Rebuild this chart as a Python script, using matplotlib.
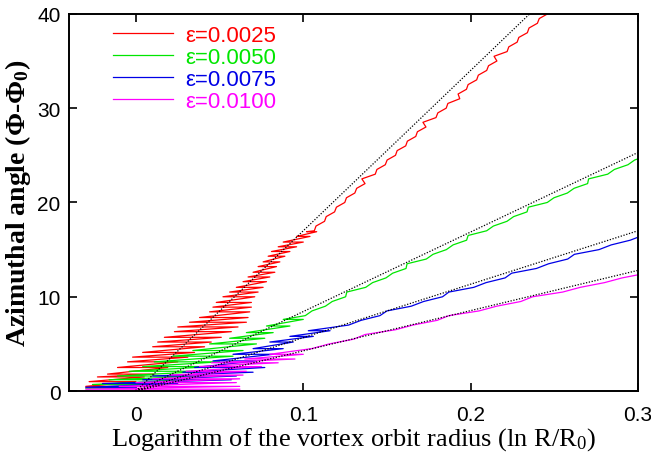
import matplotlib
matplotlib.use("Agg")
import matplotlib.pyplot as plt

plt.rcParams["mathtext.fontset"] = "custom"
plt.rcParams["mathtext.rm"] = "Liberation Serif"
plt.rcParams["mathtext.it"] = "Liberation Serif:italic"
plt.rcParams["mathtext.bf"] = "Liberation Serif:bold"

# ---- data ----
labels = ["ε=0.0025", "ε=0.0050", "ε=0.0075", "ε=0.0100"]
colors = ["#ff0000", "#00e600", "#0000e6", "#ff00ff"]

# lower part: wide oscillation strokes: level (phi), left end, right end (lnR)
red_y = [0.5, 1.0, 1.5, 1.8, 2.5, 3.1, 3.6, 4.1, 4.7, 5.2, 5.7, 6.3, 6.8, 7.3, 7.8,
         8.4, 8.9, 9.4, 10.0, 10.5, 11.0, 11.6, 12.1, 12.6, 13.2, 13.7, 14.3, 14.8,
         15.3, 15.8, 16.4, 16.9]
red_l = [-0.030, -0.028, -0.023, -0.017, -0.011, -0.005, -0.002, 0.004, 0.010, 0.013,
         0.017, 0.023, 0.025, 0.032, 0.038, 0.044, 0.046, 0.048, 0.052, 0.056, 0.060,
         0.064, 0.067, 0.070, 0.073, 0.076, 0.079, 0.081, 0.085, 0.088, 0.096, 0.102]
red_r = [0.000, 0.000, 0.005, 0.011, 0.019, 0.025, 0.031, 0.035, 0.041, 0.045, 0.051,
         0.057, 0.061, 0.066, 0.067, 0.068, 0.069, 0.069, 0.071, 0.073, 0.076, 0.078,
         0.080, 0.083, 0.084, 0.086, 0.089, 0.092, 0.096, 0.100, 0.104, 0.108]
# upper part: small jagged line (lnR, phi)
red_jx = [0.1066, 0.1076, 0.1127, 0.1137, 0.1187, 0.1198, 0.1248, 0.1258, 0.1308,
          0.1319, 0.1369, 0.1350, 0.1430, 0.1440, 0.1490, 0.1501, 0.1551, 0.1561,
          0.1612, 0.1622, 0.1672, 0.1682, 0.1733, 0.1715, 0.1793, 0.1804, 0.1854,
          0.1864, 0.1935, 0.1925, 0.1975, 0.1985, 0.2036, 0.2046, 0.2096, 0.2107,
          0.2157, 0.2140, 0.2218, 0.2228, 0.2278, 0.2288, 0.2339, 0.2349, 0.2399,
          0.2410, 0.2460, 0.2470]
red_jy = [17.0, 17.5, 18.0, 18.5, 19.0, 19.5, 20.0, 20.5, 21.0, 21.5, 22.0, 22.5, 23.0,
          23.5, 24.0, 24.5, 25.0, 25.5, 26.0, 26.5, 27.0, 27.5, 28.0, 28.5, 29.0, 29.5,
          30.0, 30.5, 31.0, 31.5, 32.0, 32.5, 33.0, 33.5, 34.0, 34.5, 35.0, 35.5, 36.0,
          36.5, 37.0, 37.5, 38.0, 38.5, 39.0, 39.5, 40.0, 40.5]

green_y = [0.3, 0.7, 1.2, 1.6, 2.1, 2.6, 3.1, 3.7, 4.3, 5.0, 5.6, 6.2, 6.9, 7.6]
green_l = [-0.030, -0.026, -0.016, -0.011, -0.004, 0.004, 0.011, 0.022, 0.034, 0.044,
           0.056, 0.066, 0.078, 0.088]
green_r = [0.000, 0.020, 0.034, 0.040, 0.043, 0.046, 0.050, 0.058, 0.064, 0.072, 0.077,
           0.082, 0.092, 0.100]
green_jx = [0.1012, 0.1052, 0.1132, 0.1173, 0.1253, 0.1260, 0.1373, 0.1414, 0.1494,
            0.1534, 0.1614, 0.1620, 0.1735, 0.1775, 0.1855, 0.1895, 0.1976, 0.1985,
            0.2096, 0.2136, 0.2217, 0.2257, 0.2337, 0.2345, 0.2458, 0.2498, 0.2578,
            0.2618, 0.2699, 0.2705, 0.2819, 0.2859, 0.2940, 0.2980, 0.3060]
green_jy = [8.0, 8.5, 9.0, 9.5, 10.0, 10.5, 11.0, 11.5, 12.0, 12.5, 13.0, 13.5, 14.0,
            14.5, 15.0, 15.5, 16.0, 16.5, 17.0, 17.5, 18.0, 18.5, 19.0, 19.5, 20.0, 20.5,
            21.0, 21.5, 22.0, 22.5, 23.0, 23.5, 24.0, 24.5, 25.0]

blue_y = [0.4, 0.8, 1.2, 1.6, 2.0, 2.5, 3.2, 3.9, 4.5, 5.2, 5.8, 6.4]
blue_l = [-0.030, -0.020, 0.004, 0.010, 0.028, 0.035, 0.046, 0.058, 0.070, 0.080, 0.092,
          0.103]
blue_r = [0.000, 0.025, 0.057, 0.060, 0.070, 0.077, 0.072, 0.082, 0.088, 0.094, 0.106,
          0.116]
blue_jx = [0.1271, 0.1345, 0.1458, 0.1500, 0.1645, 0.1719, 0.1832, 0.1870, 0.2019,
           0.2092, 0.2206, 0.2245, 0.2393, 0.2466, 0.2580, 0.2620, 0.2767, 0.2840,
           0.2954, 0.3027]
blue_jy = [7.0, 7.5, 8.0, 8.5, 9.0, 9.5, 10.0, 10.5, 11.0, 11.5, 12.0, 12.5, 13.0, 13.5,
           14.0, 14.5, 15.0, 15.5, 16.0, 16.5]

mag_y = [0.2, 0.5, 0.9, 1.3, 1.7, 2.1, 2.6, 3.0, 3.4, 3.9]
mag_l = [-0.030, -0.010, 0.000, 0.010, 0.020, 0.030, 0.038, 0.045, 0.065, 0.080]
mag_r = [0.062, 0.062, 0.060, 0.062, 0.064, 0.066, 0.075, 0.085, 0.095, 0.100]
mag_jx = [0.1050, 0.1155, 0.1300, 0.1370, 0.1550, 0.1655, 0.1800, 0.1870, 0.2050,
          0.2155, 0.2300, 0.2370, 0.2550, 0.2655, 0.2800, 0.2905, 0.3050]
mag_jy = [4.5, 5.0, 5.5, 6.0, 6.5, 7.0, 7.5, 8.0, 8.5, 9.0, 9.5, 10.0, 10.5, 11.0, 11.5,
          12.0, 12.5]

# theory (dotted) lines: phi at lnR = 0 and lnR = 0.3
theory_x = [0.0, 0.3]
theory_y = [[0.0, 51.0], [0.0, 25.3], [0.0, 17.0], [0.0, 12.8]]

series = [(red_y, red_l, red_r, red_jx, red_jy),
          (green_y, green_l, green_r, green_jx, green_jy),
          (blue_y, blue_l, blue_r, blue_jx, blue_jy),
          (mag_y, mag_l, mag_r, mag_jx, mag_jy)]

fig = plt.figure(figsize=(6.51, 4.64), dpi=100)
ax = fig.add_axes([0.106, 0.155, 0.874, 0.813])

for (ys, ls, rs, jx, jy), c, lab in zip(series, colors, labels):
    px, py = [], []
    for y, l, r in zip(ys, ls, rs):
        px += [r, l]
        py += [y, y]
    px += list(jx)
    py += list(jy)
    ax.plot(px, py, color=c, lw=0.9, label=lab)

for ty in theory_y:
    ax.plot(theory_x, ty, color="black", lw=0.9, ls=(0, (1, 1.3)))

ax.set_xlim(-0.04, 0.3)
ax.set_ylim(0, 40)
ax.set_xticks([0, 0.1, 0.2, 0.3])
ax.set_xticklabels(["0", "0.1", "0.2", "0.3"])
ax.set_yticks([0, 10, 20, 30, 40])
ax.tick_params(direction="in", length=6, width=1.2, top=True, right=True,
               labelsize=15)
ax.tick_params(axis="x", pad=10)
ax.tick_params(axis="y", pad=6)
for lbl in ax.get_xticklabels() + ax.get_yticklabels():
    lbl.set_family("Liberation Sans")
for s in ax.spines.values():
    s.set_linewidth(1.4)

ax.set_xlabel("Logarithm of the vortex orbit radius (ln R/R$_0$)",
              family="Liberation Serif", fontsize=19, labelpad=1)
ax.set_ylabel(r"Azimuthal angle (Φ-Φ$_\mathbf{0}$)", family="Liberation Serif",
              fontsize=20, fontweight="bold", labelpad=3)

leg = ax.legend(loc="upper left", frameon=False, handlelength=2.7,
                handletextpad=0.55, labelspacing=0.05, borderaxespad=0.0,
                prop={"family": "Liberation Sans", "size": 16},
                bbox_to_anchor=(0.061, 0.995))
for t, c in zip(leg.get_texts(), colors):
    t.set_color(c)

fig.savefig("out.png", dpi=100)
